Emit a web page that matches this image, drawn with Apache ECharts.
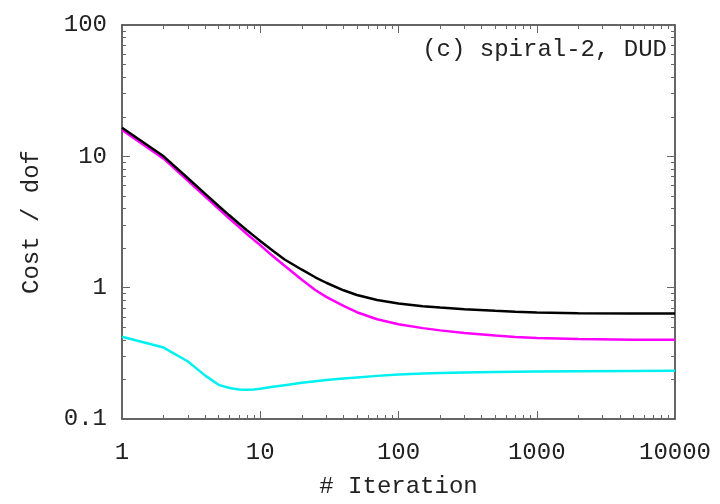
<!DOCTYPE html>
<html>
<head>
<meta charset="utf-8">
<script src="https://cdn.jsdelivr.net/npm/echarts@6/dist/echarts.min.js"></script>
<style>
  html, body { margin: 0; padding: 0; background: #fff; }
  #chart { width: 720px; height: 504px; }
</style>
</head>
<body>
<div id="chart"></div>
<script>
// iteration numbers (x)
var iterations = [1, 2, 3, 4, 5, 6, 7, 8, 9, 10, 12, 15, 20, 25, 30, 40, 50, 70,
    100, 150, 200, 300, 500, 700, 1000, 2000, 5000, 10000];
// cost / dof, black curve
var costTotal = [16.5, 10.0, 6.81, 5.18, 4.19, 3.54, 3.08, 2.74, 2.48, 2.27, 1.95, 1.64, 1.37, 1.2, 1.09, 0.955, 0.88, 0.805,
    0.757, 0.722, 0.705, 0.686, 0.666, 0.655, 0.646, 0.639, 0.636, 0.636];
// magenta curve
var costObs = [15.9, 9.6, 6.5, 4.93, 3.98, 3.35, 2.9, 2.56, 2.31, 2.11, 1.78, 1.47, 1.15, 0.96, 0.851, 0.726, 0.65, 0.575,
    0.527, 0.492, 0.473, 0.452, 0.432, 0.421, 0.413, 0.406, 0.402, 0.401];
// cyan curve
var costBkg = [0.423, 0.35, 0.274, 0.214, 0.182, 0.172, 0.168, 0.167, 0.168, 0.17, 0.175, 0.181, 0.189, 0.194, 0.198, 0.203, 0.207, 0.213,
    0.218, 0.222, 0.224, 0.226, 0.228, 0.229, 0.230, 0.231, 0.232, 0.233];

var xTicks = [1, 10, 100, 1000, 10000];
var yTicks = [0.1, 1, 10, 100];

var FONT = '"Liberation Mono", "DejaVu Sans Mono", monospace';
var frameColor = '#333';
var tickColor = '#666';

function pairs(ys) {
    return iterations.map(function (x, i) { return [x, ys[i]]; });
}

function logAxis(opts) {
    var ax = {
        type: 'log',
        logBase: 10,
        min: opts.min,
        max: opts.max,
        position: opts.position,
        splitLine: { show: false },
        axisLine: { show: true, onZero: false, lineStyle: { color: frameColor, width: 1.5 } },
        axisTick: { show: true, inside: true, length: 8, lineStyle: { color: tickColor, width: 1 } },
        // log axis: 9 splits per decade gives ticks at 2..9
        minorTick: { show: true, splitNumber: 9, length: 4, lineStyle: { color: tickColor, width: 1 } },
        axisLabel: { show: false }
    };
    if (opts.labels) {
        ax.axisLabel = {
            show: true,
            customValues: opts.labels,
            fontFamily: FONT,
            fontSize: 24,
            color: '#222',
            margin: opts.margin,
            formatter: function (v) { return String(v); }
        };
        ax.name = opts.name;
        ax.nameLocation = 'middle';
        ax.nameGap = opts.nameGap;
        ax.nameTextStyle = { fontFamily: FONT, fontSize: 24, color: '#222' };
    }
    return ax;
}

var chart = echarts.init(document.getElementById('chart'));

chart.setOption({
    animation: false,
    backgroundColor: '#fff',
    grid: { left: 122, right: 45, top: 25, bottom: 80, containLabel: false },
    title: {
        text: '(c) spiral-2, DUD',
        right: 48,
        top: 33,
        textStyle: { fontFamily: FONT, fontSize: 24, fontWeight: 'normal', color: '#222' }
    },
    xAxis: [
        logAxis({ min: 1, max: 10000, position: 'bottom', labels: xTicks, margin: 22, name: '# Iteration', nameGap: 56 }),
        logAxis({ min: 1, max: 10000, position: 'top' })
    ],
    yAxis: [
        logAxis({ min: 0.1, max: 100, position: 'left', labels: yTicks, margin: 15, name: 'Cost / dof', nameGap: 78 }),
        logAxis({ min: 0.1, max: 100, position: 'right' })
    ],
    series: [
        {
            type: 'line', data: pairs(costBkg), showSymbol: false,
            lineStyle: { color: '#00f0f0', width: 2.5 }, itemStyle: { color: '#00f0f0' }
        },
        {
            type: 'line', data: pairs(costObs), showSymbol: false,
            lineStyle: { color: '#ff00ff', width: 2.5 }, itemStyle: { color: '#ff00ff' }
        },
        {
            type: 'line', data: pairs(costTotal), showSymbol: false,
            lineStyle: { color: '#000', width: 2.5 }, itemStyle: { color: '#000' }
        }
    ]
});
</script>
</body>
</html>
